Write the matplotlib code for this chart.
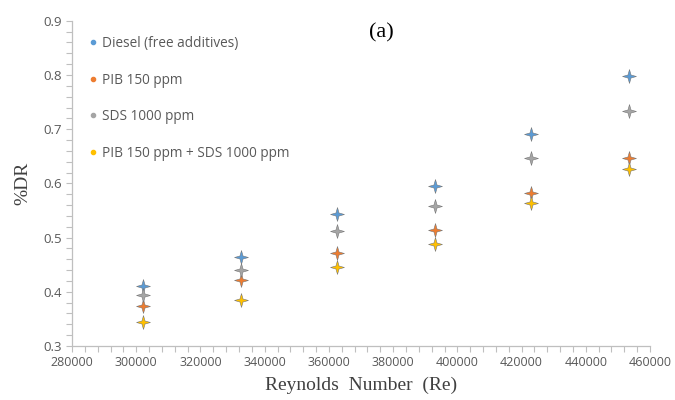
import matplotlib
matplotlib.use("Agg")
import matplotlib.pyplot as plt
from matplotlib.lines import Line2D
from matplotlib.path import Path
from matplotlib.ticker import MultipleLocator, FormatStrFormatter

# Reynolds numbers and drag reduction values
reynolds = [302000, 332500, 362500, 393000, 423000, 453500]
dr_diesel = [0.411, 0.465, 0.543, 0.595, 0.691, 0.798]
dr_pib = [0.374, 0.422, 0.472, 0.514, 0.583, 0.646]
dr_sds = [0.395, 0.440, 0.512, 0.558, 0.647, 0.734]
dr_mix = [0.344, 0.384, 0.446, 0.488, 0.563, 0.627]

labels = ["Diesel (free additives)", "PIB 150 ppm", "SDS 1000 ppm",
          "PIB 150 ppm + SDS 1000 ppm"]
colors = ["#5B9BD5", "#ED7D31", "#A5A5A5", "#FFC000"]
series = [dr_diesel, dr_pib, dr_sds, dr_mix]

# four-point "sparkle" marker like the Excel one
k = 0.22
star = Path([(0, 1), (k, k), (1, 0), (k, -k), (0, -1), (-k, -k), (-1, 0),
             (-k, k), (0, 1)], closed=True)

fig = plt.figure(figsize=(6.75, 4), dpi=100)
ax = fig.add_axes([0.1067, 0.135, 0.8563, 0.813])

for vals, c in zip(series, colors):
    ax.plot(reynolds, vals, linestyle="none", marker=star, markersize=10,
            markerfacecolor=c, markeredgecolor="#777777", markeredgewidth=0.4)

ax.set_xlim(280000, 460000)
ax.set_ylim(0.3, 0.9)
ax.xaxis.set_major_locator(MultipleLocator(20000))
ax.xaxis.set_minor_locator(MultipleLocator(4000))
ax.yaxis.set_major_locator(MultipleLocator(0.1))
ax.yaxis.set_minor_locator(MultipleLocator(0.02))
ax.yaxis.set_major_formatter(FormatStrFormatter("%.1f"))

for s in ["top", "right"]:
    ax.spines[s].set_visible(False)
for s in ["left", "bottom"]:
    ax.spines[s].set_color("#BFBFBF")
    ax.spines[s].set_linewidth(0.9)
ax.tick_params(which="both", direction="out", color="#BFBFBF", width=0.8,
               length=4, labelcolor="#595959", labelsize=9)
ax.tick_params(axis="y", labelsize=9.5)
for lbl in ax.get_xticklabels() + ax.get_yticklabels():
    lbl.set_family("Open Sans")

ax.set_xlabel("Reynolds  Number  (Re)", family="Liberation Serif", fontsize=14,
              color="#404040", labelpad=5)
ax.set_ylabel("%DR", family="Liberation Serif", fontsize=14, color="#404040",
              labelpad=8)
fig.text(0.565, 0.918, "(a)", family="Liberation Serif", fontsize=16,
         color="black", ha="center", va="center")

handles = [Line2D([], [], linestyle="none", marker="o", markersize=3,
                  markerfacecolor=c, markeredgecolor=c) for c in colors]
leg = ax.legend(handles, labels, loc="upper left", bbox_to_anchor=(0.113, 0.94),
                bbox_transform=fig.transFigure, frameon=False,
                labelspacing=1.58, handlelength=0.6, handletextpad=0.4,
                prop={"family": "Open Sans", "size": 9.8})
for t in leg.get_texts():
    t.set_color("#595959")

fig.savefig("out.png", dpi=100)
